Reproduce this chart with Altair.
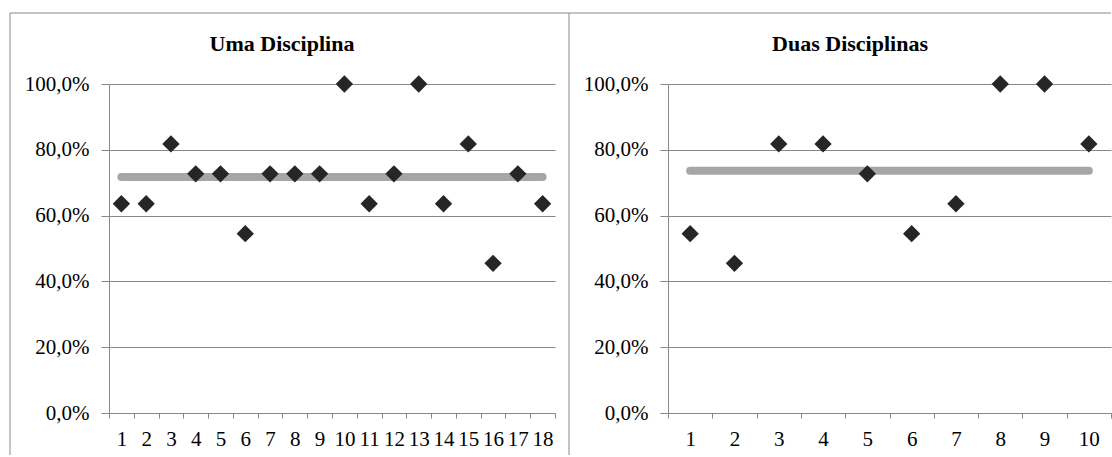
import altair as alt
import pandas as pd

# ---- data ----
uma_title = "Uma Disciplina"
uma_cats = list(range(1, 19))
uma_vals = [63.6, 63.6, 81.8, 72.7, 72.7, 54.5, 72.7, 72.7, 72.7,
            100.0, 63.6, 72.7, 100.0, 63.6, 81.8, 45.5, 72.7, 63.6]
uma_mean = 71.7

duas_title = "Duas Disciplinas"
duas_cats = list(range(1, 11))
duas_vals = [54.5, 45.5, 81.8, 81.8, 72.7, 54.5, 63.6, 100.0, 100.0, 81.8]
duas_mean = 73.6

y_ticks = [0, 20, 40, 60, 80, 100]

FONT = "Liberation Serif"
GRAY = "#888888"


def panel(cats, vals, mean, title, width, title_x, border_left, border_right, draw_left_edge):
    df = pd.DataFrame({"cat": cats, "val": vals})
    line_df = pd.DataFrame({"cat": cats, "val": [mean] * len(cats)})
    one = pd.DataFrame({"k": [0]})

    x = alt.X("cat:O",
              scale=alt.Scale(paddingInner=0, paddingOuter=0),
              axis=alt.Axis(title=None, labelAngle=0, tickBand="extent",
                            tickSize=5, labelPadding=21, labelBaseline="middle",
                            labelOverlap=False, grid=False))
    y = alt.Y("val:Q",
              scale=alt.Scale(domain=[0, 100], nice=False, zero=True),
              axis=alt.Axis(title=None, values=y_ticks,
                            labelExpr="replace(format(datum.value, '.1f'), '.', ',') + '%'",
                            tickSize=8, labelPadding=12, grid=True))

    mean_line = alt.Chart(line_df).mark_line(
        color="#a6a6a6", strokeWidth=8, strokeCap="round"
    ).encode(x=x, y=y)

    points = alt.Chart(df).mark_point(
        shape="diamond", filled=True, color="#262626", size=300, opacity=1
    ).encode(x=x, y=y)

    title_mark = alt.Chart(one).mark_text(
        font=FONT, fontSize=22, fontWeight="bold", align="center",
        baseline="alphabetic", color="black"
    ).encode(x=alt.value(title_x), y=alt.value(-33), text=alt.value(title))

    top_rule = alt.Chart(one).mark_rule(color=GRAY, strokeWidth=1).encode(
        x=alt.value(border_left), x2=alt.value(border_right),
        y=alt.value(-71))
    layers = [top_rule, mean_line, points, title_mark]
    if draw_left_edge:
        left_rule = alt.Chart(one).mark_rule(color=GRAY, strokeWidth=1).encode(
            x=alt.value(border_left), y=alt.value(-71), y2=alt.value(371))
        sep_rule = alt.Chart(one).mark_rule(color=GRAY, strokeWidth=1).encode(
            x=alt.value(border_right), y=alt.value(-71), y2=alt.value(371))
        layers = [left_rule, sep_rule] + layers

    return alt.layer(*layers).properties(width=width, height=329)


left = panel(uma_cats, uma_vals, uma_mean, uma_title, 446, 173, -99, 460, True)
right = panel(duas_cats, duas_vals, duas_mean, duas_title, 443, 182, -99, 443, False)

chart = alt.HConcatChart(
    hconcat=[left, right], spacing=113, bounds="flush",
    padding={"left": 9, "top": 12, "right": 0, "bottom": 0},
    background="white",
).configure_view(stroke=None).configure_axis(
    labelFont=FONT, labelFontSize=21, labelColor="black",
    domainColor=GRAY, tickColor=GRAY, gridColor=GRAY,
    gridOpacity=1, domainWidth=1, tickWidth=1, gridWidth=1,
)

chart.save("out.html", embed_options={"renderer": "svg", "actions": False})
